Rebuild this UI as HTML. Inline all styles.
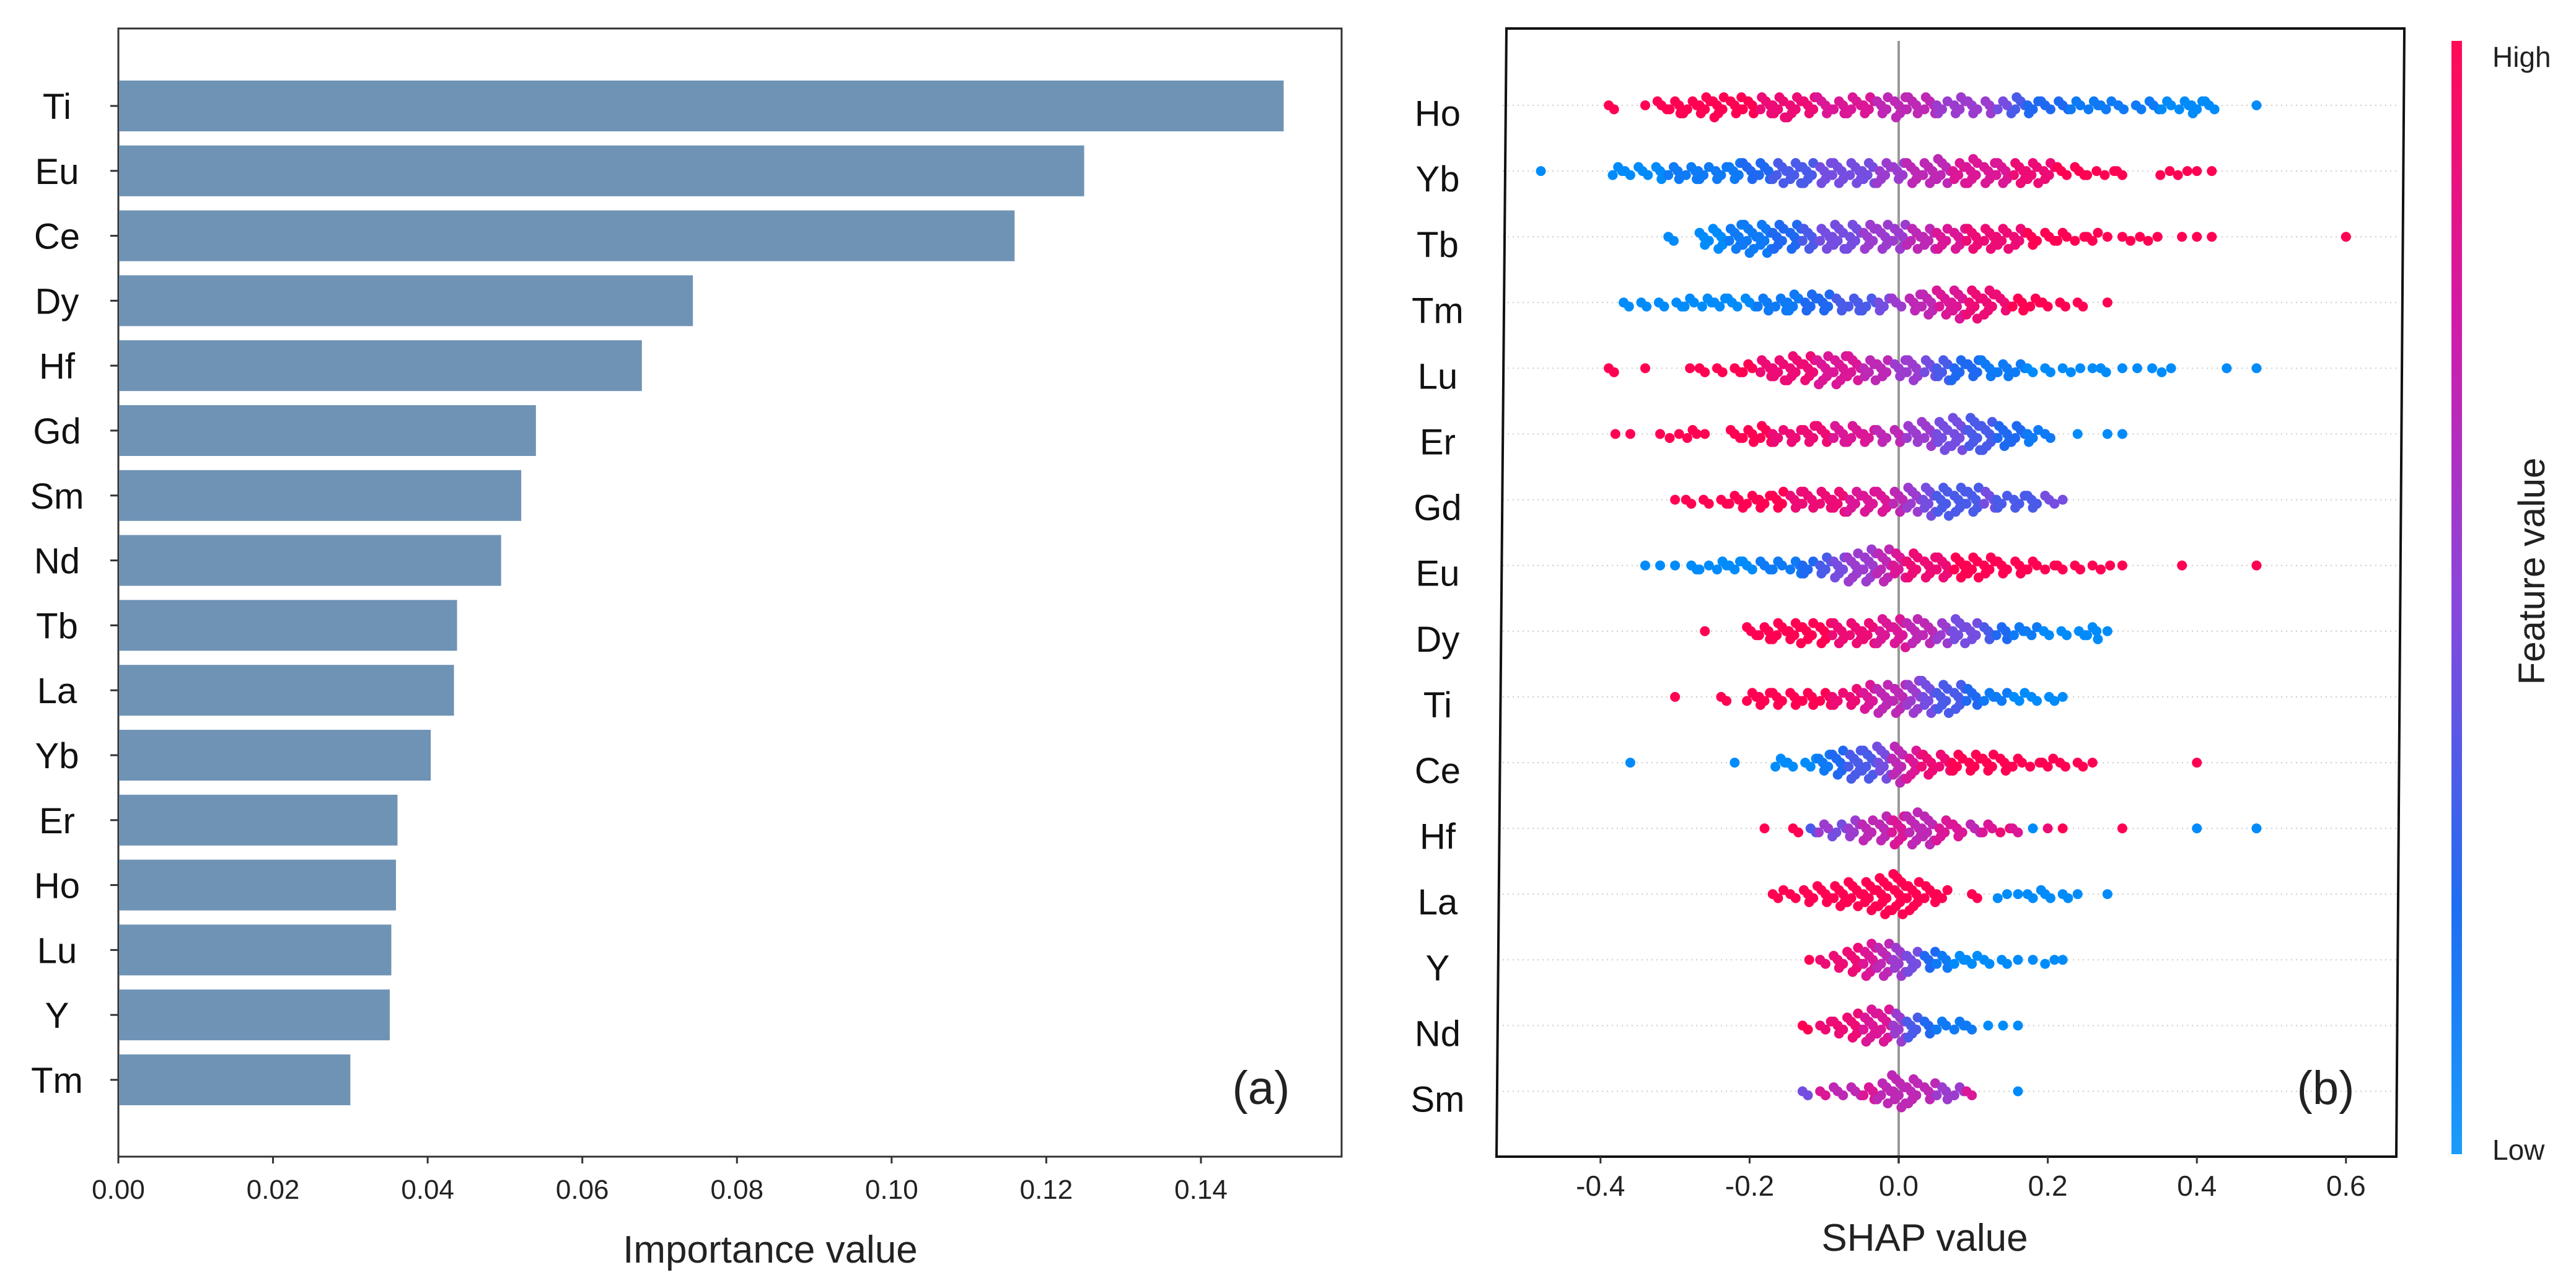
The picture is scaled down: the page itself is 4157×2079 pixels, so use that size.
<!DOCTYPE html>
<html><head><meta charset="utf-8">
<style>
html,body{margin:0;padding:0;background:#fff;}
svg{display:block;font-family:"Liberation Sans",Arial,sans-serif;}
</style></head>
<body>
<svg id="fig" width="4157" height="2079" viewBox="0 0 4157 2079" xmlns="http://www.w3.org/2000/svg">
<defs>
<linearGradient id="cbar" x1="0" y1="1" x2="0" y2="0">
<stop offset="0" stop-color="#1a9cfb"/>
<stop offset="0.22" stop-color="#1e6ef2"/>
<stop offset="0.5" stop-color="#8a46dc"/>
<stop offset="0.75" stop-color="#d21aa8"/>
<stop offset="1" stop-color="#ff0a55"/>
</linearGradient>
</defs>
<g id="panelA"></g>
<g id="panelB"></g>
</svg>
<script>
// ---------- Panel (a) data ----------
const barFeatures = ["Ti","Eu","Ce","Dy","Hf","Gd","Sm","Nd","Tb","La","Yb","Er","Ho","Lu","Y","Tm"];
const barValues = [0.1507,0.1249,0.1159,0.0743,0.0677,0.0540,0.0521,0.0495,0.0438,0.0434,0.0404,0.0361,0.0359,0.0353,0.0351,0.0300];
const barTicks = [0,0.02,0.04,0.06,0.08,0.10,0.12,0.14];
const barTickLabels = ["0.00","0.02","0.04","0.06","0.08","0.10","0.12","0.14"];

// ---------- Panel (b) data ----------
const shapFeatures = ["Ho","Yb","Tb","Tm","Lu","Er","Gd","Eu","Dy","Ti","Ce","Hf","La","Y","Nd","Sm"];
const shapTicks = [-0.4,-0.2,0,0.2,0.4,0.6];
const shapTickLabels = ["-0.4","-0.2","0.0","0.2","0.4","0.6"];
const binStep = 0.02;
const shapStarts = [-0.38,-0.48,-0.30,-0.36,-0.38,-0.38,-0.30,-0.34,-0.26,-0.30,-0.36,-0.18,-0.16,-0.12,-0.12,-0.12];
const countsHo = [2,0,1,3,4,4,5,6,5,4,5,6,6,5,5,4,5,5,5,6,5,5,4,5,4,4,3,5,4,3,3,3,3,3,2,2,3,3,3,4,3,0,0,1];
const colorsHo = [9,9,9,9,9,9,9,9,9,9,8,8,8,8,7,7,7,7,6,6,6,6,5,5,5,5,4,3,2,2,2,1,1,1,1,1,1,0,0,0,0,0,0,0];
const countsYb = [1,0,0,0,0,3,2,3,4,4,4,4,4,5,5,5,6,6,6,6,6,6,6,6,5,6,6,7,6,7,6,6,6,6,5,3,3,2,2,2,0,0,2,2,1,1];
const colorsYb = [0,0,0,0,0,0,0,0,0,1,1,1,1,1,2,2,3,3,3,4,4,4,4,5,5,6,6,6,7,7,7,7,8,8,8,9,9,9,9,9,9,9,9,9,9,9];
const countsTb = [2,0,4,6,7,8,8,7,7,6,6,7,7,7,7,7,6,6,6,6,6,6,6,5,4,3,3,2,3,1,1,2,2,0,1,1,1,0,0,0,0,0,0,0,0,1];
const colorsTb = [0,0,0,0,1,1,1,2,2,3,4,4,4,5,5,5,6,6,7,7,8,8,8,8,9,9,9,9,9,9,9,9,9,9,9,9,9,9,9,9,9,9,9,9,9,9];
const countsTm = [2,2,2,2,3,3,3,3,3,4,4,5,5,5,4,4,4,4,3,5,6,7,8,8,7,5,4,3,2,2,2,0,1,0];
const colorsTm = [0,0,0,0,0,0,0,0,0,1,1,1,2,2,3,3,3,4,5,6,6,7,7,8,8,8,9,9,9,9,9,9,9,9];
const countsLu = [2,0,1,0,0,1,2,2,2,3,5,6,7,7,8,8,7,6,5,5,6,5,6,6,5,5,4,3,2,2,1,2,1,2,1,1,1,2,0,0,0,1,0,1,0];
const colorsLu = [9,9,9,9,9,9,9,9,9,9,8,8,8,8,7,7,7,6,6,5,5,4,3,2,2,1,1,1,0,0,0,0,0,0,0,0,0,0,0,0,0,0,0,0,0];
const countsEr = [1,1,0,1,2,3,1,0,3,4,5,4,4,5,5,5,5,4,4,4,5,7,8,9,9,8,6,5,4,2,0,1,0,1,1];
const colorsEr = [9,9,9,9,9,9,9,9,9,9,9,8,8,8,8,7,7,7,6,6,5,5,4,4,3,3,2,2,1,1,0,0,0,0,0];
const countsGd = [1,2,2,2,3,4,4,5,5,5,5,6,6,6,6,6,7,8,8,7,7,5,4,4,4,3,1];
const colorsGd = [9,9,9,9,9,9,9,9,8,8,8,8,7,7,7,6,5,4,3,3,3,4,3,3,3,4,4];
const countsEu = [1,1,1,2,2,3,3,3,3,3,4,4,5,6,8,9,9,7,7,6,6,6,6,5,4,4,3,2,2,2,1,2,1,0,0,0,1,0,0,0,0,1];
const colorsEu = [0,0,0,0,0,0,0,0,1,1,1,2,3,4,5,5,6,7,8,8,8,9,9,9,9,9,9,9,9,9,9,9,9,9,9,9,9,9,9,9,9,9];
const countsDy = [1,0,0,3,4,5,6,5,6,6,6,6,7,8,7,6,6,7,5,4,4,3,3,2,2,2,4,1];
const colorsDy = [9,9,9,9,9,9,9,9,9,8,8,8,7,7,6,6,5,4,4,3,2,1,1,0,0,0,0,0];
const countsTi = [1,0,0,2,0,3,4,4,4,4,4,4,5,7,8,8,9,9,8,7,5,3,3,3,2,2,1,0];
const colorsTi = [9,9,9,9,9,9,9,9,9,9,9,8,8,7,6,6,5,4,3,3,2,1,1,0,0,0,0,0];
const countsCe = [1,0,0,0,0,0,0,1,0,0,3,2,3,5,7,8,8,9,10,8,6,5,5,5,5,4,3,2,3,2,2,1,0,0,0,0,0,0,1];
const colorsCe = [0,0,0,0,0,0,0,0,0,0,0,0,0,1,2,3,3,4,6,7,8,8,9,9,9,9,9,9,9,9,9,9,9,9,9,9,9,9,9];
const countsHf = [1,0,2,2,3,4,5,6,7,8,9,8,6,4,3,3,2,2,1,1,1,0,0,0,1,0,0,0,0,1,0,0,0,1];
const colorsHf = [9,9,9,3,5,4,5,6,6,7,6,6,7,7,6,7,8,7,0,8,9,0,0,0,9,0,0,0,0,0,0,0,0,0];
const countsLa = [3,2,4,5,6,7,8,10,11,8,5,3,0,2,0,2,1,2,3,2,1,0,1];
const colorsLa = [9,9,9,9,9,9,9,9,9,9,9,9,9,9,0,0,0,0,0,0,0,0,0];
const countsY = [1,2,4,7,9,9,8,6,5,4,3,3,2,2,1,1,2,1];
const colorsY = [9,8,8,8,7,6,5,4,2,1,0,0,0,0,0,0,0,0];
const countsNd = [2,3,4,7,9,9,8,6,4,3,3,2,1,1,1];
const colorsNd = [9,8,8,8,7,7,5,3,2,1,1,1,0,0,0];
const countsSm = [2,2,3,3,4,6,9,7,5,4,3,2,0,0,1];
const colorsSm = [4,7,6,6,7,6,6,6,6,5,5,7,0,0,0];

const allCounts = [countsHo,countsYb,countsTb,countsTm,countsLu,countsEr,countsGd,countsEu,countsDy,countsTi,countsCe,countsHf,countsLa,countsY,countsNd,countsSm];
const allColors = [colorsHo,colorsYb,colorsTb,colorsTm,colorsLu,colorsEr,colorsGd,colorsEu,colorsDy,colorsTi,colorsCe,colorsHf,colorsLa,colorsY,colorsNd,colorsSm];

const NS = "http://www.w3.org/2000/svg";
function mk(parent, tag, attrs, text){
  const e = document.createElementNS(NS, tag);
  for (const k in attrs) e.setAttribute(k, attrs[k]);
  if (text !== undefined) e.textContent = text;
  parent.appendChild(e);
  return e;
}

// ---------- Panel (a) ----------
const A = document.getElementById("panelA");
const ax = {x0:191, x1:2165, y0:46, y1:1867};
const xA = v => ax.x0 + v/0.14*(1938-191);
const yA = i => 171 + i*104.8;
const frameA = mk(A,"rect",{x:ax.x0,y:ax.y0,width:ax.x1-ax.x0,height:ax.y1-ax.y0,fill:"none",stroke:"#333",'stroke-width':3});


barFeatures.forEach((f,i)=>{
  const r = mk(A,"rect",{x:ax.x0+1,y:yA(i)-41,width:xA(barValues[i])-ax.x0-1,height:82,fill:"#6f93b5"});
  
  
  const t = mk(A,"line",{x1:178,x2:ax.x0,y1:yA(i),y2:yA(i),stroke:"#333",'stroke-width':3});
  
  
  const l = mk(A,"text",{x:92,y:yA(i)+21,'font-size':58,'text-anchor':'middle',fill:"#111"},f);
  
  
});
barTicks.forEach((v,i)=>{
  const t = mk(A,"line",{x1:xA(v),x2:xA(v),y1:ax.y1,y2:ax.y1+11,stroke:"#333",'stroke-width':3});
  
  
  const l = mk(A,"text",{x:xA(v),y:1935,'font-size':44,'text-anchor':'middle',fill:"#222"},barTickLabels[i]);
  
  
});
const titA = mk(A,"text",{x:1243,y:2038,'font-size':62,'text-anchor':'middle',fill:"#222"},"Importance value");


const labA = mk(A,"text",{x:2035,y:1782,'font-size':76,'text-anchor':'middle',fill:"#222"},"(a)");



// ---------- Panel (b) ----------
const B = document.getElementById("panelB");
const xB = v => 3064 + v/0.2*240.6;
const yB = i => 170 + i*106.1;
shapFeatures.forEach((f,i)=>{
  const g = mk(B,"line",{x1:2425,x2:3872,y1:yB(i),y2:yB(i),stroke:"#ccc",'stroke-width':2,'stroke-dasharray':'2,6'});
  
  
});
const zl = mk(B,"line",{x1:xB(0),x2:xB(0),y1:66,y2:1878,stroke:"#999",'stroke-width':4});



function colorOf(c){
  const stops=[[0,[0,139,251]],[0.22,[30,105,242]],[0.5,[138,70,220]],[0.75,[215,25,160]],[1,[255,0,82]]];
  const t=c/9;
  for(let k=0;k<stops.length-1;k++){
    const a=stops[k],b=stops[k+1];
    if(t<=b[0]){const u=(t-a[0])/(b[0]-a[0]);
      return "rgb("+a[1].map((v,j)=>Math.round(v+(b[1][j]-v)*u)).join(",")+")";}
  }
  return "rgb(255,0,82)";
}
const binPx = binStep/0.2*240.6;
shapFeatures.forEach((f,i)=>{
  const row = mk(B,"g",{});
  
  
  const counts = allCounts[i], cols = allColors[i];
  counts.forEach((n,b)=>{
    const cx0 = xB(shapStarts[i] + b*binStep);
    for(let k=0;k<n;k++){
      const dx = n===1 ? 0 : (((k*37+b*13)%11)/10 - 0.5)*binPx*0.9;
      const dy = (k%2?1:-1)*Math.ceil(k/2)*6.5;
      const d = mk(row,"circle",{cx:cx0+dx,cy:yB(i)+dy,r:8,fill:colorOf(cols[b])});
      
      
    }
  });
  const l = mk(B,"text",{x:2320,y:yB(i)+33,'font-size':58,'text-anchor':'middle',fill:"#111"},f);
  
  
});
const frameB = mk(B,"polygon",{points:"2431,46 3880,46 3867,1867 2415,1867",fill:"none",stroke:"#111",'stroke-width':4});


shapTicks.forEach((v,i)=>{
  const t = mk(B,"line",{x1:xB(v),x2:xB(v),y1:1867,y2:1878,stroke:"#333",'stroke-width':3});
  
  
  const l = mk(B,"text",{x:xB(v),y:1930,'font-size':46,'text-anchor':'middle',fill:"#222"},shapTickLabels[i]);
  
  
});
const titB = mk(B,"text",{x:3106,y:2019,'font-size':62,'text-anchor':'middle',fill:"#222"},"SHAP value");


const labB = mk(B,"text",{x:3753,y:1782,'font-size':76,'text-anchor':'middle',fill:"#222"},"(b)");


const cb = mk(B,"rect",{x:3956,y:66,width:17,height:1797,fill:"url(#cbar)"});


const hi = mk(B,"text",{x:4022,y:108,'font-size':46,fill:"#222"},"High");


const lo = mk(B,"text",{x:4022,y:1872,'font-size':46,fill:"#222"},"Low");


const fv = mk(B,"text",{x:4106,y:922,'font-size':60,'text-anchor':'middle',fill:"#222",transform:"rotate(-90 4106 922)"},"Feature value");


</script>
</body></html>
